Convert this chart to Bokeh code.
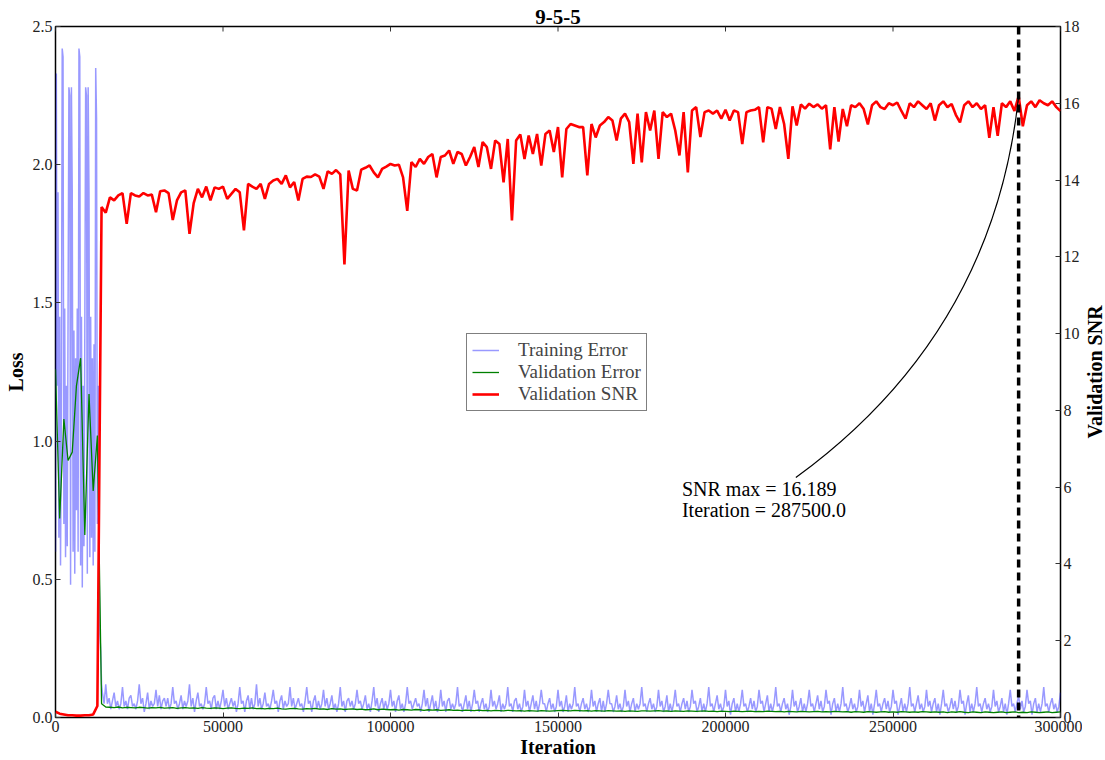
import math
from bokeh.plotting import figure
from bokeh.layouts import row
from bokeh.models import Range1d, LinearAxis, Span, Legend, LegendItem, FixedTicker, Label
from bokeh.embed import file_html
from bokeh.resources import INLINE

FONT = "Liberation Serif"

# ---------------- data ----------------
snr_step = 1250
early_step = 250      # training error, 0 .. 13750
late_start = 14000    # training error, 14000 .. 300000
late_step = 500

validation_snr = [
    0.15, 0.10, 0.08, 0.06, 0.06, 0.05, 0.05, 0.06, 0.06, 0.08, 0.30,
    13.30, 13.15, 13.55, 13.47, 13.60, 13.66, 12.86, 13.66, 13.60, 13.57,
    13.66, 13.60, 13.62, 13.16, 13.71, 13.73, 13.66, 12.96, 13.47, 13.68,
    13.73, 12.60, 13.40, 13.77, 13.55, 13.83, 13.47, 13.81, 13.77, 13.83,
    13.51, 13.64, 13.77, 13.68, 12.69, 13.90, 13.83, 13.77, 13.90, 13.51,
    13.90, 13.99, 14.03, 13.90, 14.12, 13.81, 13.95, 13.47, 14.03, 14.09,
    14.08, 14.15, 14.09, 13.77, 14.23, 14.16, 14.26, 14.15, 11.80, 14.25,
    13.77, 13.73, 14.27, 14.32, 14.38, 14.20, 14.07, 14.29, 14.35, 14.42,
    14.38, 14.40, 14.07, 13.20, 14.47, 14.34, 14.55, 14.42, 14.60, 14.68,
    14.07, 14.60, 14.64, 14.77, 14.42, 14.73, 14.68, 14.38, 14.60, 14.86,
    14.34, 14.99, 14.86, 14.29, 15.03, 14.94, 13.94, 15.07, 12.95, 15.03,
    15.19, 14.55, 15.16, 14.68, 15.20, 14.38, 15.20, 15.29, 14.73, 15.38,
    14.07, 15.33, 15.46, 15.42, 15.38, 15.38, 14.12, 15.46, 15.11, 15.42,
    15.51, 15.64, 15.55, 15.03, 15.60, 15.73, 15.51, 14.42, 15.73, 14.46,
    15.77, 15.29, 15.81, 14.55, 15.77, 15.64, 15.73, 15.29, 14.64, 15.77,
    14.20, 15.81, 15.90, 15.12, 15.77, 15.81, 15.73, 15.81, 15.60, 15.83,
    15.55, 15.81, 15.77, 14.94, 15.77, 15.81, 15.83, 15.90, 14.98, 15.90,
    15.86, 15.33, 15.90, 15.46, 14.55, 15.92, 15.42, 15.97, 15.86, 15.99,
    15.90, 15.97, 15.86, 15.95, 14.80, 15.90, 15.00, 15.85, 15.40, 15.95,
    15.90, 16.00, 15.85, 15.45, 15.95, 16.05, 15.90, 15.85, 16.00, 15.95,
    16.02, 15.80, 15.60, 16.00, 15.90, 16.05, 15.95, 15.85, 16.00, 15.55,
    15.95, 16.05, 15.90, 15.98, 15.70, 15.50, 15.95, 16.05, 15.90, 16.00,
    15.85, 15.95, 15.10, 15.90, 15.15, 16.00, 15.90, 16.05, 15.80, 16.189,
    15.40, 15.95, 16.05, 15.90, 16.08, 16.00, 15.95, 16.05, 15.90, 15.80,
]

validation_error = [
    1.26, 0.72, 1.08, 0.93, 0.96, 1.20, 1.30, 0.66, 1.17, 0.82, 1.02,
    0.050, 0.038, 0.037, 0.036, 0.038, 0.035, 0.037, 0.036, 0.035, 0.037,
    0.036, 0.034, 0.036, 0.035, 0.037, 0.034, 0.035, 0.036, 0.033, 0.035,
    0.036, 0.034, 0.035, 0.033, 0.036, 0.034, 0.033, 0.035, 0.034, 0.032,
    0.034, 0.035, 0.033, 0.032, 0.034, 0.033, 0.035, 0.032, 0.033, 0.031,
    0.033, 0.032, 0.034, 0.031, 0.030, 0.032, 0.033, 0.031, 0.030, 0.032,
    0.031, 0.033, 0.030, 0.031, 0.029, 0.032, 0.030, 0.031, 0.029, 0.030,
    0.031, 0.029, 0.030, 0.028, 0.029, 0.031, 0.028, 0.030, 0.029, 0.028,
    0.029, 0.027, 0.029, 0.028, 0.027, 0.029, 0.028, 0.026, 0.028, 0.027,
    0.028, 0.026, 0.027, 0.028, 0.026, 0.027, 0.025, 0.027, 0.026, 0.025,
    0.027, 0.025, 0.026, 0.024, 0.026, 0.025, 0.024, 0.026, 0.025, 0.024,
    0.025, 0.023, 0.025, 0.024, 0.023, 0.025, 0.024, 0.023, 0.024, 0.025,
    0.026, 0.025, 0.024, 0.026, 0.025, 0.024, 0.025, 0.023, 0.025, 0.024,
    0.023, 0.025, 0.024, 0.023, 0.024, 0.022, 0.024, 0.023, 0.022, 0.024,
    0.024, 0.023, 0.024, 0.025, 0.023, 0.024, 0.022, 0.024, 0.023, 0.022,
    0.024, 0.023, 0.022, 0.023, 0.024, 0.022, 0.023, 0.021, 0.023, 0.022,
    0.021, 0.023, 0.022, 0.021, 0.022, 0.023, 0.021, 0.022, 0.021, 0.023,
    0.022, 0.021, 0.022, 0.020, 0.022, 0.021, 0.020, 0.022, 0.021, 0.020,
    0.021, 0.022, 0.020, 0.021, 0.020, 0.022, 0.021, 0.020, 0.021, 0.019,
    0.021, 0.020, 0.019, 0.021, 0.020, 0.019, 0.020, 0.021, 0.019, 0.020,
    0.019, 0.021, 0.020, 0.019, 0.020, 0.019, 0.021, 0.020, 0.019, 0.020,
    0.019, 0.020, 0.018, 0.020, 0.019, 0.021, 0.019, 0.018, 0.020, 0.019,
    0.018, 0.020, 0.019, 0.018, 0.019, 0.020, 0.018, 0.019, 0.020, 0.018,
    0.019, 0.018, 0.020, 0.019, 0.018, 0.019, 0.020, 0.018, 0.019, 0.020,
]

training_error_early = [
    0.60, 2.33, 1.20, 1.90, 0.65, 1.45, 0.55, 1.10, 2.42, 2.39,
    0.70, 1.48, 0.58, 1.20, 0.62, 1.45, 2.28, 2.25, 0.48, 2.28,
    1.90, 0.60, 1.40, 0.52, 1.30, 0.75, 1.48, 0.60, 2.42, 2.39,
    0.55, 1.45, 0.47, 1.20, 0.62, 1.40, 2.28, 2.25, 0.52, 2.28,
    1.90, 0.58, 1.45, 0.65, 1.30, 0.55, 1.35, 0.60, 2.35, 2.17,
    0.70, 1.20, 0.55, 0.30, 0.24, 0.12,
]

training_error = [
    0.09, 0.05,
    0.12, 0.05, 0.07, 0.03, 0.06, 0.09, 0.04, 0.06, 0.03, 0.05,
    0.11, 0.04, 0.06, 0.03, 0.07, 0.08, 0.04, 0.05, 0.03, 0.06,
    0.12, 0.05, 0.07, 0.02, 0.05, 0.09, 0.03, 0.06, 0.04, 0.05,
    0.10, 0.04, 0.08, 0.03, 0.06, 0.07, 0.04, 0.07, 0.03, 0.05,
    0.11, 0.05, 0.06, 0.03, 0.05, 0.08, 0.03, 0.06, 0.04, 0.06,
    0.12, 0.04, 0.07, 0.02, 0.06, 0.09, 0.04, 0.05, 0.03, 0.05,
    0.11, 0.05, 0.06, 0.03, 0.07, 0.08, 0.03, 0.06, 0.03, 0.06,
    0.10, 0.04, 0.07, 0.03, 0.05, 0.07, 0.04, 0.06, 0.02, 0.05,
    0.11, 0.05, 0.06, 0.02, 0.06, 0.08, 0.03, 0.07, 0.03, 0.05,
    0.12, 0.04, 0.07, 0.03, 0.05, 0.09, 0.04, 0.05, 0.03, 0.06,
    0.10, 0.05, 0.06, 0.02, 0.06, 0.08, 0.03, 0.06, 0.04, 0.05,
    0.11, 0.04, 0.07, 0.03, 0.05, 0.07, 0.04, 0.05, 0.02, 0.06,
    0.11, 0.05, 0.06, 0.02, 0.06, 0.08, 0.03, 0.06, 0.03, 0.05,
    0.10, 0.04, 0.07, 0.03, 0.05, 0.08, 0.03, 0.05, 0.02, 0.05,
    0.11, 0.04, 0.06, 0.02, 0.06, 0.07, 0.04, 0.06, 0.03, 0.05,
    0.10, 0.05, 0.06, 0.03, 0.05, 0.08, 0.03, 0.05, 0.02, 0.06,
    0.11, 0.04, 0.07, 0.02, 0.05, 0.07, 0.03, 0.06, 0.03, 0.05,
    0.10, 0.04, 0.06, 0.02, 0.06, 0.08, 0.03, 0.05, 0.02, 0.05,
    0.11, 0.05, 0.06, 0.03, 0.05, 0.07, 0.04, 0.05, 0.02, 0.05,
    0.10, 0.04, 0.07, 0.02, 0.05, 0.08, 0.03, 0.06, 0.02, 0.04,
    0.10, 0.04, 0.06, 0.02, 0.06, 0.07, 0.03, 0.05, 0.03, 0.05,
    0.11, 0.04, 0.05, 0.02, 0.05, 0.08, 0.03, 0.06, 0.02, 0.05,
    0.10, 0.05, 0.06, 0.02, 0.05, 0.07, 0.03, 0.05, 0.02, 0.04,
    0.10, 0.04, 0.06, 0.03, 0.05, 0.08, 0.02, 0.05, 0.03, 0.05,
    0.11, 0.04, 0.05, 0.02, 0.06, 0.07, 0.03, 0.05, 0.02, 0.04,
    0.10, 0.04, 0.06, 0.02, 0.05, 0.08, 0.03, 0.06, 0.02, 0.05,
    0.10, 0.05, 0.05, 0.02, 0.05, 0.07, 0.03, 0.05, 0.02, 0.04,
    0.10, 0.04, 0.06, 0.02, 0.04, 0.08, 0.02, 0.05, 0.03, 0.05,
    0.11, 0.04, 0.05, 0.02, 0.05, 0.07, 0.03, 0.05, 0.02, 0.04,
    0.10, 0.04, 0.06, 0.02, 0.05, 0.07, 0.02, 0.06, 0.02, 0.05,
    0.10, 0.05, 0.05, 0.02, 0.04, 0.08, 0.03, 0.05, 0.02, 0.04,
    0.10, 0.04, 0.06, 0.02, 0.05, 0.07, 0.02, 0.05, 0.03, 0.05,
    0.11, 0.04, 0.05, 0.02, 0.05, 0.07, 0.03, 0.05, 0.02, 0.04,
    0.10, 0.04, 0.06, 0.02, 0.04, 0.08, 0.02, 0.05, 0.02, 0.05,
    0.10, 0.04, 0.05, 0.02, 0.05, 0.07, 0.03, 0.06, 0.02, 0.04,
    0.10, 0.05, 0.06, 0.02, 0.04, 0.07, 0.02, 0.05, 0.02, 0.05,
    0.11, 0.04, 0.05, 0.02, 0.05, 0.08, 0.03, 0.05, 0.02, 0.04,
    0.10, 0.04, 0.06, 0.01, 0.05, 0.07, 0.02, 0.05, 0.02, 0.05,
    0.10, 0.04, 0.05, 0.02, 0.04, 0.07, 0.03, 0.06, 0.02, 0.04,
    0.10, 0.05, 0.06, 0.02, 0.05, 0.08, 0.02, 0.05, 0.02, 0.05,
    0.11, 0.04, 0.05, 0.02, 0.05, 0.07, 0.03, 0.05, 0.01, 0.04,
    0.10, 0.04, 0.06, 0.02, 0.04, 0.07, 0.02, 0.05, 0.02, 0.05,
    0.10, 0.04, 0.05, 0.02, 0.05, 0.08, 0.03, 0.06, 0.02, 0.04,
    0.10, 0.05, 0.06, 0.01, 0.05, 0.07, 0.02, 0.05, 0.02, 0.05,
    0.11, 0.04, 0.05, 0.02, 0.04, 0.07, 0.03, 0.05, 0.02, 0.04,
    0.10, 0.04, 0.06, 0.02, 0.05, 0.08, 0.02, 0.05, 0.01, 0.05,
    0.10, 0.04, 0.05, 0.02, 0.05, 0.07, 0.03, 0.06, 0.02, 0.04,
    0.10, 0.05, 0.06, 0.01, 0.04, 0.07, 0.02, 0.05, 0.02, 0.05,
    0.11, 0.04, 0.05, 0.02, 0.05, 0.08, 0.03, 0.05, 0.02, 0.04,
    0.10, 0.04, 0.06, 0.02, 0.05, 0.07, 0.02, 0.05, 0.01, 0.05,
    0.10, 0.04, 0.05, 0.02, 0.04, 0.07, 0.03, 0.06, 0.02, 0.04,
    0.10, 0.05, 0.06, 0.01, 0.05, 0.08, 0.02, 0.05, 0.02, 0.05,
    0.11, 0.04, 0.05, 0.02, 0.05, 0.07, 0.03, 0.05, 0.02, 0.04,
    0.10, 0.04, 0.06, 0.02, 0.04, 0.07, 0.02, 0.05, 0.01, 0.05,
    0.10, 0.04, 0.05, 0.02, 0.05, 0.08, 0.03, 0.06, 0.02, 0.04,
    0.10, 0.05, 0.06, 0.01, 0.05, 0.07, 0.02, 0.05, 0.02, 0.05,
    0.11, 0.04, 0.05, 0.02, 0.05, 0.07, 0.03, 0.05, 0.02, 0.04,
    0.09,
]

snr_iters = [i * snr_step for i in range(len(validation_snr))]
train_iters = ([i * early_step for i in range(len(training_error_early))] +
               [late_start + i * late_step for i in range(len(training_error))])
train_values = training_error_early + training_error

x_ticks = [0, 50000, 100000, 150000, 200000, 250000, 300000]
x_tick_labels = ["0", "50000", "100000", "150000", "200000", "250000", "300000"]
loss_ticks = [0.0, 0.5, 1.0, 1.5, 2.0, 2.5]
loss_tick_labels = ["0.0", "0.5", "1.0", "1.5", "2.0", "2.5"]
snr_ticks = [0, 2, 4, 6, 8, 10, 12, 14, 16, 18]

best_idx = validation_snr.index(max(validation_snr))
best_snr = validation_snr[best_idx]
best_iter = snr_iters[best_idx]

# ---------------- main figure ----------------
X_END, Y_END, SNR_END = 300000, 2.5, 18
FRAME_H = 691
p = figure(width=1082, height=760, output_backend="svg", toolbar_location=None,
           x_range=Range1d(0, X_END), y_range=Range1d(0, Y_END),
           min_border_left=55, min_border_right=22, min_border_top=26,
           min_border_bottom=43)
p.extra_y_ranges = {"snr": Range1d(0, SNR_END)}

p.title.text = "9-5-5"
p.title.align = "center"
p.title.text_font = FONT
p.title.text_font_size = "21px"
p.title.text_font_style = "bold"
p.title.text_color = "black"
p.title.offset = 0
p.title.standoff = 5

p.xgrid.grid_line_color = None
p.ygrid.grid_line_color = None
p.outline_line_color = "black"
p.outline_line_width = 1.5
p.background_fill_color = "white"
p.border_fill_color = "white"


def style_axis(ax):
    ax.major_tick_in = 5
    ax.major_tick_out = 0
    ax.major_tick_line_color = "#333333"
    ax.minor_tick_line_color = None
    ax.axis_line_color = None
    ax.major_label_text_font = FONT
    ax.major_label_text_font_size = "16px"
    ax.major_label_text_color = "#222222"
    ax.axis_label_text_font = FONT
    ax.axis_label_text_font_size = "20px"
    ax.axis_label_text_font_style = "bold"
    ax.axis_label_text_color = "black"


xa = p.xaxis[0]
style_axis(xa)
xa.ticker = FixedTicker(ticks=x_ticks)
xa.major_label_overrides = dict(zip(x_ticks, x_tick_labels))
xa.axis_label = "Iteration"
xa.major_label_standoff = 3
xa.axis_label_standoff = 1

ya = p.yaxis[0]
style_axis(ya)
ya.ticker = FixedTicker(ticks=loss_ticks)
ya.major_label_overrides = dict(zip(loss_ticks, loss_tick_labels))
ya.axis_label = "Loss"
ya.major_label_standoff = 3
ya.axis_label_standoff = 3

ra = LinearAxis(y_range_name="snr", ticker=FixedTicker(ticks=snr_ticks))
style_axis(ra)
ra.major_label_standoff = 3
p.add_layout(ra, "right")

# top-edge tick marks (the x ticks mirrored on the upper spine)
top_tick_len = Y_END * 5 / FRAME_H
p.segment(x0=x_ticks, y0=[Y_END] * len(x_ticks), x1=x_ticks,
          y1=[Y_END - top_tick_len] * len(x_ticks), line_color="#333333", line_width=1)

# ---------------- data renderers ----------------
r_train = p.line(train_iters, train_values, line_color="blue", line_alpha=0.4,
                 line_width=1.5)
r_val = p.line(snr_iters, validation_error, line_color="green", line_width=1.3)
r_snr = p.line(snr_iters, validation_snr, line_color="red", line_width=2.6,
               y_range_name="snr")

p.add_layout(Span(location=best_iter, dimension="height", line_color="black",
                  line_width=3.5, line_dash="8 5"))

# annotation arrow (curved) and text
txt_x, txt_y = 187000, 5.95
p.quadratic(x0=[221000], y0=[6.25], x1=[best_iter], y1=[best_snr],
            cx=[280000], cy=[10.0], line_color="black", line_width=1.2,
            y_range_name="snr")
p.add_layout(Label(x=txt_x, y=txt_y, y_range_name="snr",
                   text=f"SNR max = {best_snr:.3f}", text_font=FONT,
                   text_font_size="20px", text_baseline="middle", text_color="black"))
p.add_layout(Label(x=txt_x, y=txt_y - 0.55, y_range_name="snr",
                   text=f"Iteration = {best_iter:.1f}", text_font=FONT,
                   text_font_size="20px", text_baseline="middle", text_color="black"))

legend = Legend(items=[
    LegendItem(label="Training Error", renderers=[r_train]),
    LegendItem(label="Validation Error", renderers=[r_val]),
    LegendItem(label="Validation SNR", renderers=[r_snr]),
], location=(411, 306))
legend.label_text_font = FONT
legend.label_text_font_size = "19px"
legend.border_line_color = "black"
legend.border_line_width = 1
legend.background_fill_alpha = 1
legend.glyph_width = 27
legend.glyph_height = 22
legend.label_height = 22
legend.label_standoff = 19
legend.spacing = 0
legend.padding = 5
legend.margin = 0
p.add_layout(legend)

# ---------------- strip holding the right-hand axis title ----------------
# (a left axis label reads bottom-to-top, as in the reference)
side = figure(width=23, height=760, output_backend="svg", toolbar_location=None,
              x_range=Range1d(0, 1), y_range=Range1d(0, SNR_END),
              min_border_left=23, min_border_right=0, min_border_top=26,
              min_border_bottom=43)
side.outline_line_color = None
side.xgrid.grid_line_color = None
side.ygrid.grid_line_color = None
side.xaxis.visible = False
side.border_fill_color = "white"
side.background_fill_color = "white"
sa = side.yaxis[0]
sa.ticker = FixedTicker(ticks=[])
sa.axis_line_color = None
sa.major_tick_line_color = None
sa.minor_tick_line_color = None
sa.major_label_standoff = 0
sa.axis_label = "Validation SNR"
sa.axis_label_standoff = 0
sa.axis_label_text_font = FONT
sa.axis_label_text_font_size = "20px"
sa.axis_label_text_font_style = "bold"
sa.axis_label_text_color = "black"

layout = row(p, side, spacing=0)

open("out.html", "w").write(file_html(layout, INLINE))
